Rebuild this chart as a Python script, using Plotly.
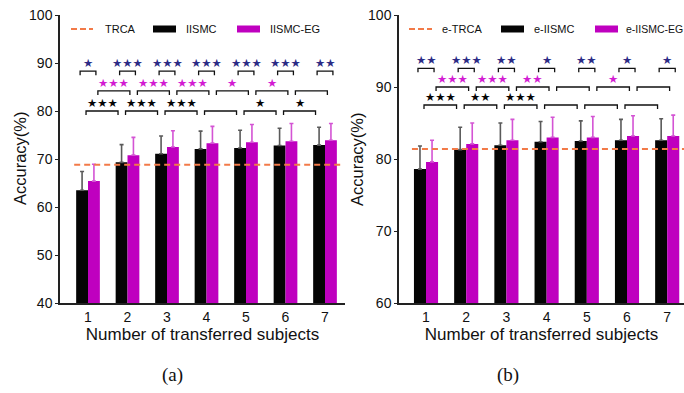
import plotly.graph_objects as go

W, H = 684, 393

# ---------------- data ----------------
subjects = [1, 2, 3, 4, 5, 6, 7]
tick_labels = ["1", "2", "3", "4", "5", "6", "7"]

# panel (a)
trca_a = 68.8
iismc_a = [63.5, 69.3, 71.1, 72.1, 72.3, 72.8, 72.9]
iismc_a_err = [3.9, 3.7, 3.7, 3.7, 3.7, 3.6, 3.7]
iismceg_a = [65.4, 70.8, 72.5, 73.3, 73.5, 73.7, 73.9]
iismceg_a_err = [3.5, 3.7, 3.4, 3.5, 3.7, 3.7, 3.5]
# significance labels
sig_pair_a = ["*", "***", "***", "***", "***", "***", "**"]      # IISMC vs IISMC-EG
sig_eg_a = ["***", "***", "***", "*", "*", ""]                   # IISMC-EG n vs n+1
sig_ii_a = ["***", "***", "***", "", "*", "*"]                   # IISMC n vs n+1

# panel (b)
trca_b = 81.4
iismc_b = [78.6, 81.3, 81.9, 82.4, 82.5, 82.6, 82.6]
iismc_b_err = [3.2, 3.1, 3.1, 2.8, 2.8, 2.9, 3.0]
iismceg_b = [79.6, 82.1, 82.6, 83.0, 83.0, 83.2, 83.2]
iismceg_b_err = [3.0, 2.9, 2.9, 2.8, 2.9, 2.8, 2.9]
sig_pair_b = ["**", "***", "**", "*", "**", "*", "*"]
sig_eg_b = ["***", "***", "**", "", "*", ""]
sig_ii_b = ["***", "**", "***", "", "", ""]

# ---------------- style ----------------
BLACK = "#050505"
MAGENTA = "#bf00bf"
ORANGE = "#f27a48"
NAVY = "#2b2b85"
STAR_MAG = "#d21cd2"
FONT = "Liberation Sans, Arial, sans-serif"


def px(x):
    return x / W


def py(y):
    return 1 - y / H


fig = go.Figure()

panels = [
    dict(xa="x", ya="y", trca=trca_a, ii=iismc_a, iie=iismc_a_err, eg=iismceg_a, ege=iismceg_a_err,
         names=("TRCA", "IISMC", "IISMC-EG"), sp=sig_pair_a, se=sig_eg_a, si=sig_ii_a,
         levels=(88.3, 84.2, 80.0), leg=0.85, trca_end=7.42),
    dict(xa="x2", ya="y2", trca=trca_b, ii=iismc_b, iie=iismc_b_err, eg=iismceg_b, ege=iismceg_b_err,
         names=("e-TRCA", "e-IISMC", "e-IISMC-EG"), sp=sig_pair_b, se=sig_eg_b, si=sig_ii_b,
         levels=(92.6, 90.0, 87.5), leg=0.56, trca_end=7.6),
]

shapes = []
annotations = []

for p in panels:
    fig.add_trace(go.Bar(
        x=subjects, y=p["ii"], name=p["names"][1], marker=dict(color=BLACK, line=dict(width=0)),
        error_y=dict(type="data", symmetric=False, array=p["iie"], arrayminus=[0] * len(p["iie"]),
                     color="#5a5a5a", thickness=1.6, width=2),
        xaxis=p["xa"], yaxis=p["ya"], showlegend=False))
    fig.add_trace(go.Bar(
        x=subjects, y=p["eg"], name=p["names"][2], marker=dict(color=MAGENTA, line=dict(width=0)),
        error_y=dict(type="data", symmetric=False, array=p["ege"], arrayminus=[0] * len(p["ege"]),
                     color="#d454d4", thickness=1.6, width=2),
        xaxis=p["xa"], yaxis=p["ya"], showlegend=False))
    fig.add_trace(go.Scatter(
        x=[subjects[0] - 0.35, p["trca_end"]], y=[p["trca"], p["trca"]], mode="lines",
        line=dict(color=ORANGE, width=2, dash="6px,4px"), name=p["names"][0],
        xaxis=p["xa"], yaxis=p["ya"], showlegend=False, cliponaxis=False))

    lv_pair, lv_eg, lv_ii = p["levels"]
    leg = p["leg"]
    xref, yref = p["xa"], p["ya"]

    def bracket(x0, x1, y, label, color):
        shapes.append(dict(type="path", xref=xref, yref=yref,
                           path=f"M {x0},{y - leg} L {x0},{y} L {x1},{y} L {x1},{y - leg}",
                           line=dict(color="#111111", width=1.3)))
        if label:
            annotations.append(dict(x=(x0 + x1) / 2, y=y, xref=xref, yref=yref,
                                    text="★" * len(label), showarrow=False,
                                    yanchor="bottom", yshift=-1,
                                    font=dict(family="DejaVu Sans", size=11.5, color=color)))

    for i, s in enumerate(subjects):
        bracket(s - 0.2, s + 0.2, lv_pair, p["sp"][i], NAVY)
    for i, s in enumerate(subjects[:-1]):
        bracket(s + 0.25, s + 1.06, lv_eg, p["se"][i], STAR_MAG)
        bracket(s - 0.05, s + 0.76, lv_ii, p["si"][i], BLACK)

# legends (drawn in paper coords)
legend_pos = [
    dict(line=(71, 93), t0=103, r1=(153, 176), t1=184, r2=(237, 260), t2=268, fs=11, names=panels[0]["names"]),
    dict(line=(409, 432), t0=440, r1=(501, 524), t1=532, r2=(595, 618), t2=624, fs=10.5, names=panels[1]["names"]),
]
ly = 29
for L in legend_pos:
    shapes.append(dict(type="line", xref="paper", yref="paper", x0=px(L["line"][0]), x1=px(L["line"][1]),
                       y0=py(ly), y1=py(ly), line=dict(color=ORANGE, width=2, dash="6px,3px")))
    shapes.append(dict(type="rect", xref="paper", yref="paper", x0=px(L["r1"][0]), x1=px(L["r1"][1]),
                       y0=py(ly + 3.5), y1=py(ly - 3.5), fillcolor=BLACK, line=dict(width=0)))
    shapes.append(dict(type="rect", xref="paper", yref="paper", x0=px(L["r2"][0]), x1=px(L["r2"][1]),
                       y0=py(ly + 3.5), y1=py(ly - 3.5), fillcolor=MAGENTA, line=dict(width=0)))
    for k, (xx, name) in enumerate(zip((L["t0"], L["t1"], L["t2"]), L["names"])):
        annotations.append(dict(x=px(xx), y=py(ly), xref="paper", yref="paper", text=name,
                                showarrow=False, xanchor="left", yanchor="middle",
                                font=dict(family=FONT, size=(L["fs"] if k == 2 else 11), color="#111111")))

# y-axis titles
for xx, yy in ((20, 158), (357, 159)):
    annotations.append(dict(x=px(xx), y=py(yy), xref="paper", yref="paper", text="Accuracy(%)",
                            textangle=-90, showarrow=False, xanchor="center", yanchor="middle",
                            font=dict(family=FONT, size=16.5, color="#111")))

# captions
for xx, t in ((172, "(a)"), (508, "(b)")):
    annotations.append(dict(x=px(xx), y=py(375), xref="paper", yref="paper", text=t, showarrow=False,
                            xanchor="center", yanchor="middle",
                            font=dict(family="Liberation Serif, Times New Roman, serif", size=19, color="#111")))

axis_common = dict(showline=True, linecolor="#222222", linewidth=1.5, showgrid=False, zeroline=False,
                   automargin=False, tickfont=dict(family=FONT, size=14, color="#111111"))
ydom = [py(303), py(15)]

fig.update_layout(
    width=W, height=H, margin=dict(l=0, r=0, t=0, b=0, autoexpand=False),
    paper_bgcolor="white", plot_bgcolor="white",
    barmode="group", bargap=0.4, bargroupgap=0,
    shapes=shapes, annotations=annotations,
    xaxis=dict(domain=[px(60), px(345)], range=[0.291, 7.506], tickvals=subjects, ticktext=tick_labels,
               ticks="", anchor="y",
               title=dict(text="Number of transferred subjects", font=dict(family=FONT, size=17, color="#111"),
                          standoff=4), **axis_common),
    yaxis=dict(domain=ydom, range=[40, 100], tickvals=[40, 50, 60, 70, 80, 90, 100], ticks="outside",
               ticklen=3, tickcolor="#222", anchor="x", **axis_common),
    xaxis2=dict(domain=[px(399), 1.0], range=[0.328, 7.418], tickvals=subjects, ticktext=tick_labels,
                ticks="", anchor="y2",
                title=dict(text="Number of transferred subjects", font=dict(family=FONT, size=17, color="#111"),
                           standoff=4), **axis_common),
    yaxis2=dict(domain=ydom, range=[60, 100], tickvals=[60, 70, 80, 90, 100], ticks="outside",
                ticklen=3, tickcolor="#222", anchor="x2", **axis_common),
)

fig.write_html("out.html")
